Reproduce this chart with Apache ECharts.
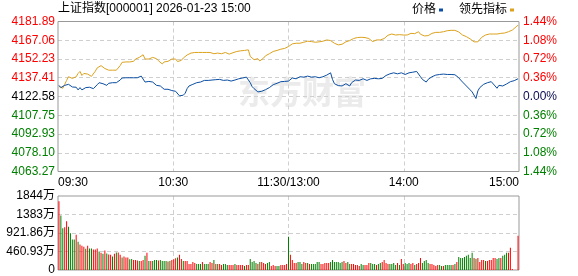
<!DOCTYPE html>
<html><head><meta charset="utf-8">
<script src="https://cdn.jsdelivr.net/npm/echarts@6/dist/echarts.min.js"></script>
<style>html,body{margin:0;padding:0;background:#fff}#c{width:578px;height:276px}</style>
</head><body><div id="c"></div>
<script>
const titleText = '上证指数[000001] 2026-01-23 15:00';
const legendNames = ['价格', '领先指标'];
const priceMin = 4063.27, priceMax = 4181.89;
const leftTickLabels = ['4063.27','4078.10','4092.93','4107.75','4122.58','4137.41','4152.23','4167.06','4181.89'];
const rightTickLabels = ['1.44%','1.08%','0.72%','0.36%','0.00%','0.36%','0.72%','1.08%','1.44%'];
const volMax = 1843.72;
const volTickLabels = ['0','460.93万','921.86万','1383万','1844万'];
const timeLabels = {0:'09:30',60:'10:30',120:'11:30/13:00',180:'14:00',240:'15:00'};

const price = [
4131.4,4129.6,4130.4,4131.4,4132.2,4132.2,4130.9,4130.1,4129.6,4129.9,
4127.8,4129.6,4127.8,4129.3,4129.6,4128.8,4129.9,4129.3,4128.8,4130.1,
4131.9,4133.5,4134.3,4132.7,4133.0,4131.4,4133.0,4133.5,4133.5,4133.5,
4133.5,4133.8,4135.6,4137.2,4137.9,4137.4,4137.2,4137.4,4137.2,4137.4,
4137.2,4137.4,4137.2,4138.7,4139.8,4134.0,4133.5,4134.5,4133.5,4134.0,
4132.5,4131.4,4131.7,4130.9,4129.6,4128.3,4128.8,4128.3,4127.0,4127.3,
4127.5,4126.7,4125.2,4123.1,4122.3,4123.6,4125.2,4128.8,4130.9,4131.4,
4132.2,4132.7,4133.5,4133.2,4134.0,4134.5,4135.3,4134.5,4135.3,4135.1,
4135.6,4135.1,4135.9,4135.3,4136.1,4136.6,4135.3,4136.1,4135.6,4135.1,
4134.8,4135.6,4135.6,4136.1,4136.6,4136.9,4137.2,4137.7,4137.9,4139.2,
4133.5,4130.4,4128.8,4127.3,4126.2,4125.4,4126.7,4127.3,4128.0,4127.8,
4129.6,4130.9,4131.9,4131.4,4133.0,4133.8,4134.3,4134.5,4134.5,4134.8,
4134.8,4135.6,4137.2,4137.4,4136.6,4137.4,4138.2,4137.7,4137.9,4137.4,
4138.7,4138.2,4137.9,4138.2,4138.2,4137.2,4137.4,4138.2,4138.2,4138.7,
4139.5,4140.0,4141.3,4136.1,4132.7,4131.7,4131.2,4129.9,4130.9,4131.9,
4132.7,4131.9,4130.9,4133.5,4134.8,4135.6,4136.1,4135.3,4135.9,4136.6,
4136.1,4135.3,4136.1,4136.6,4136.1,4136.9,4136.6,4136.6,4137.2,4136.9,
4138.2,4139.2,4139.8,4140.5,4141.8,4141.3,4141.0,4140.5,4141.0,4141.3,
4140.5,4140.0,4140.5,4141.3,4142.1,4141.8,4141.8,4142.4,4143.4,4138.2,
4136.1,4135.3,4134.0,4136.1,4137.2,4138.2,4139.5,4139.5,4139.8,4140.0,
4139.2,4140.3,4140.0,4140.0,4140.0,4140.0,4140.0,4139.8,4138.7,4137.4,
4135.6,4134.0,4132.7,4130.9,4129.6,4127.8,4126.2,4125.2,4121.0,4127.0,
4129.6,4130.9,4132.2,4133.0,4133.5,4133.5,4134.3,4133.0,4130.9,4129.1,
4131.4,4132.2,4130.9,4131.4,4132.5,4133.5,4134.3,4134.5,4135.1,4135.9,4136.6
];

const lead = [
4130.5,4130.1,4129.1,4132.2,4135.3,4138.2,4138.2,4136.9,4135.9,4138.2,
4140.8,4142.4,4139.2,4140.8,4140.0,4140.3,4139.2,4138.5,4139.2,4142.6,
4145.2,4146.0,4147.0,4145.7,4144.7,4143.9,4143.4,4143.4,4143.4,4143.4,
4143.4,4143.4,4147.0,4149.6,4150.4,4149.9,4149.6,4149.9,4150.4,4150.4,
4152.2,4152.5,4153.5,4154.3,4155.6,4152.2,4151.7,4152.2,4150.9,4153.5,
4153.8,4152.5,4150.9,4149.6,4148.3,4149.9,4151.2,4150.4,4150.7,4152.2,
4153.0,4152.2,4150.2,4149.9,4151.2,4153.0,4154.1,4155.4,4156.4,4156.9,
4157.2,4157.4,4157.4,4157.4,4157.4,4157.4,4157.7,4157.4,4157.7,4157.4,
4156.9,4156.4,4155.9,4156.9,4156.6,4156.4,4156.9,4157.4,4157.2,4156.1,
4156.6,4157.2,4158.0,4158.2,4158.5,4158.7,4158.7,4159.0,4159.0,4159.5,
4154.3,4152.8,4151.7,4151.2,4152.5,4150.7,4151.7,4153.0,4154.8,4155.4,
4156.4,4157.2,4158.2,4157.7,4159.0,4159.5,4160.0,4160.3,4160.6,4160.8,
4162.1,4163.4,4164.2,4164.7,4164.7,4164.2,4164.7,4165.3,4165.5,4166.0,
4166.3,4166.6,4166.0,4165.3,4165.5,4165.5,4165.8,4166.0,4166.3,4166.8,
4167.3,4168.1,4166.8,4165.3,4164.7,4163.9,4163.4,4162.9,4163.9,4165.0,
4165.8,4166.3,4166.8,4167.9,4168.4,4168.9,4169.2,4169.2,4169.4,4169.4,
4169.2,4168.9,4168.4,4167.3,4166.0,4166.8,4167.3,4167.3,4167.3,4167.3,
4168.4,4169.9,4171.0,4171.5,4172.0,4171.5,4171.2,4171.5,4171.5,4171.2,
4171.2,4171.2,4171.2,4171.2,4172.5,4171.0,4172.3,4173.1,4173.8,4171.8,
4170.7,4170.5,4169.9,4170.7,4171.2,4172.5,4173.1,4173.3,4173.3,4173.3,
4173.3,4173.8,4174.4,4174.6,4174.9,4174.9,4174.9,4174.9,4174.4,4173.6,
4172.3,4171.2,4170.5,4169.9,4169.4,4168.1,4167.3,4165.8,4164.7,4165.8,
4167.3,4169.4,4170.5,4171.2,4171.2,4172.0,4173.1,4172.0,4171.2,4172.0,
4172.5,4172.5,4172.5,4172.8,4173.1,4173.8,4174.4,4175.1,4176.2,4177.7,4179.0
];

// volume in 万 (morning 09:30-11:30, afternoon 13:01-15:00)
const volMorning = [
1716,1356,1038,1063,1214,1080,913,762,762,879,
703,636,603,578,527,603,536,536,511,511,
536,460,427,402,486,410,385,377,335,402,
435,435,377,310,335,310,310,268,276,251,
251,234,226,226,251,352,427,226,226,226,
251,251,234,251,226,226,
226,209,226,251,268,293,310,377,276,226,
226,226,151,151,201,176,151,151,151,201,
151,151,151,201,176,251,151,151,151,126,
151,151,126,126,126,126,151,126,126,126,
126,
100,126,126,276,201,226,176,151,201,201,
176,151,176,201,100,126,100,100,100,126,
126,126,151,829
];
const volAfternoon = [
377,251,176,176,201,201,151,201,176,176,
151,151,151,151,201,201,151,151,176,176,
176,201,251,201,201,201,176,201,226,176,
201,151,151,151,126,126,100,151,126,126,
126,176,176,151,151,126,151,176,201,251,
176,151,151,151,176,126,
176,126,276,151,
176,151,176,151,176,126,151,176,301,176,
226,251,176,151,151,126,100,126,126,100,
100,126,126,126,126,126,151,201,327,301,
301,327,352,377,301,427,301,276,301,201,
251,251,226,
226,251,251,301,301,276,301,301,352,377,427,427,553,25,0,0,854
];
// r = up (red), g = down (green)
const dirMorning = 'rggrrggggrgrrrgrggrrrgrgrgrrgrgrrgrrrggrrrgrrgrgrgggrgg' + 'g' +
  'grgrrrgrrgrrrrrrgggrgggrrgrgrrgggrrrgrrr' + 'r' + 'grrggggrgrrrggrrrggrrrrgr';
const dirAfternoon = 'rrrgggrrgrgggggrrrrrgggggggrrggrrrrrggrrrgggrggrrrrggggr' + 'grrg' +
  'ggrrgrrrggggrrrrrggrggggrgrggggggggrgrrrrgrr' + 'rrrggrgggrrrrrrrr';

const volume = volMorning.concat(volAfternoon);
const volDir = dirMorning + dirAfternoon;

const categories = [];
for (let m = 0; m <= 120; m++) { const t = 570 + m; categories.push(String(Math.floor(t/60)).padStart(2,'0') + ':' + String(t%60).padStart(2,'0')); }
for (let m = 1; m <= 120; m++) { const t = 780 + m; categories.push(String(Math.floor(t/60)).padStart(2,'0') + ':' + String(t%60).padStart(2,'0')); }

const RED = '#ff0000', GREEN = '#008000', BLUE = '#0b4ea2', ORANGE = '#dca21e';
const FONT = '"Liberation Sans", Arial, "Noto Sans CJK SC", sans-serif';
const priceStep = (priceMax - priceMin) / 8;
const volStep = volMax / 4;
const dash = { color: '#cfcfcf', width: 1, type: [4, 3] };

const chart = echarts.init(document.getElementById('c'), null, { renderer: 'canvas' });
chart.setOption({
  animation: false,
  backgroundColor: '#fff',
  textStyle: { fontFamily: FONT },
  title: { text: titleText, left: 56, top: 1, padding: 2,
    textStyle: { fontSize: 12, fontWeight: 'normal', color: '#000', fontFamily: FONT } },
  legend: { data: legendNames, right: 62, top: 2, align: 'right', icon: 'rect',
    itemWidth: 4, itemHeight: 3, itemGap: 16, padding: 2,
    textStyle: { fontSize: 12, color: '#000', fontFamily: FONT, padding: [0, -2, 0, 0] } },
  graphic: [{ type: 'text', left: 238, top: 76, z: 0, silent: true,
    style: { text: '东方财富', font: 'bold 32px "Noto Sans CJK SC"', fill: '#ebebeb' } }],
  grid: [
    { left: 58, right: 59, top: 21.5, height: 150, show: true, borderColor: '#999', borderWidth: 1, z: 1 },
    { left: 58, right: 59, top: 196, height: 74, show: true, borderColor: '#999', borderWidth: 1, z: 1 }
  ],
  xAxis: [
    { type: 'category', gridIndex: 0, data: categories, boundaryGap: true, show: false },
    { type: 'value', gridIndex: 0, min: 0, max: 240, interval: 60, position: 'bottom',
      axisLine: { show: false }, axisTick: { show: false },
      splitLine: { show: true, showMinLine: false, showMaxLine: false, lineStyle: dash },
      axisLabel: { show: true, margin: 5, fontSize: 12, color: '#000', fontFamily: FONT,
        showMinLabel: true, showMaxLabel: true, alignMinLabel: 'left', alignMaxLabel: 'right',
        formatter: v => timeLabels[v] || '' } },
    { type: 'category', gridIndex: 1, data: categories, boundaryGap: true, show: false },
    { type: 'value', gridIndex: 1, min: 0, max: 240, interval: 60,
      axisLine: { show: false }, axisTick: { show: false }, axisLabel: { show: false },
      splitLine: { show: true, showMinLine: false, showMaxLine: false, lineStyle: dash } }
  ],
  yAxis: [
    { type: 'value', gridIndex: 0, position: 'left', min: priceMin, max: priceMax, interval: priceStep,
      axisLine: { show: false }, axisTick: { show: false },
      splitLine: { show: true, showMinLine: false, showMaxLine: false, lineStyle: dash },
      axisLabel: { margin: 3, fontSize: 12, fontFamily: FONT, showMinLabel: true, showMaxLabel: true,
        formatter: v => leftTickLabels[Math.round((v - priceMin) / priceStep)],
        color: (v, i) => { const k = Math.round((v - priceMin) / priceStep); return k > 4 ? RED : (k < 4 ? GREEN : '#000'); } } },
    { type: 'value', gridIndex: 0, position: 'right', min: priceMin, max: priceMax, interval: priceStep,
      axisLine: { show: false }, axisTick: { show: false }, splitLine: { show: false },
      axisLabel: { margin: 4, fontSize: 12, fontFamily: FONT, showMinLabel: true, showMaxLabel: true,
        formatter: v => rightTickLabels[8 - Math.round((v - priceMin) / priceStep)],
        color: (v, i) => { const k = Math.round((v - priceMin) / priceStep); return k > 4 ? RED : (k < 4 ? GREEN : '#0a0a50'); } } },
    { type: 'value', gridIndex: 1, position: 'left', min: 0, max: volMax, interval: volStep,
      axisLine: { show: false }, axisTick: { show: false },
      splitLine: { show: true, showMinLine: false, showMaxLine: false, lineStyle: dash },
      axisLabel: { margin: 3, fontSize: 12, fontFamily: FONT, color: '#000', showMinLabel: true, showMaxLabel: true,
        formatter: v => volTickLabels[Math.round(v / volStep)] } }
  ],
  series: [
    { name: legendNames[0], type: 'line', xAxisIndex: 0, yAxisIndex: 0, data: price,
      showSymbol: false, symbol: 'none', color: BLUE, lineStyle: { width: 1, color: BLUE }, z: 4 },
    { name: legendNames[1], type: 'line', xAxisIndex: 0, yAxisIndex: 0, data: lead,
      showSymbol: false, symbol: 'none', color: ORANGE, lineStyle: { width: 1, color: ORANGE }, z: 3 },
    { name: 'vol', type: 'bar', xAxisIndex: 2, yAxisIndex: 2, barWidth: 1,
      data: volume.map((v, i) => ({ value: v, itemStyle: { color: volDir[i] === 'g' ? GREEN : RED } })) }
  ]
});
</script>
</body></html>
